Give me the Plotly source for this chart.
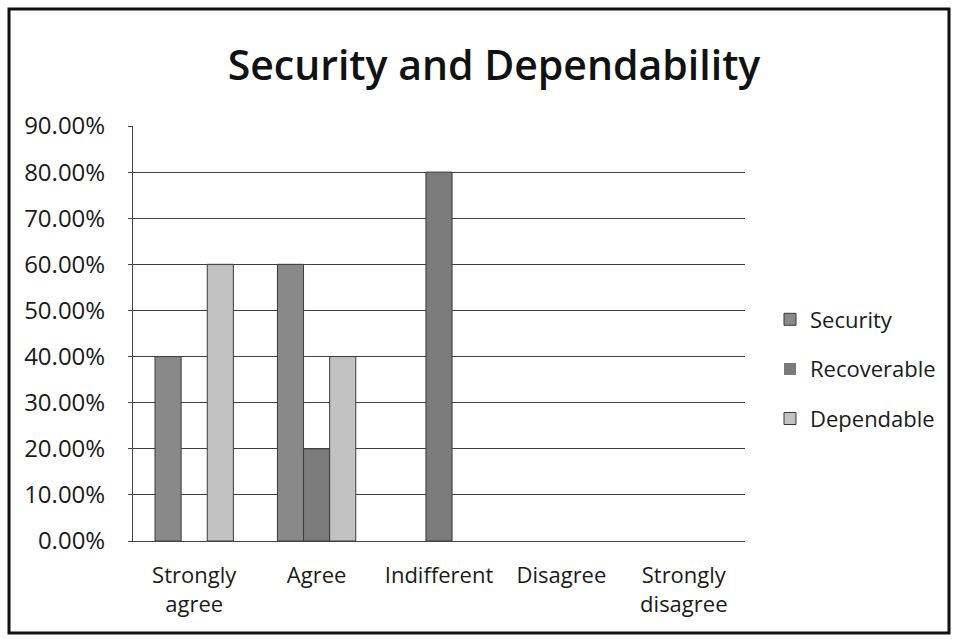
import plotly.graph_objects as go

categories = ["Strongly<br>agree", "Agree", "Indifferent", "Disagree", "Strongly<br>disagree"]
security = [0.40, 0.60, 0.0, 0.0, 0.0]
recoverable = [0.0, 0.20, 0.80, 0.0, 0.0]
dependable = [0.60, 0.40, 0.0, 0.0, 0.0]
y_ticks = [0.0, 0.1, 0.2, 0.3, 0.4, 0.5, 0.6, 0.7, 0.8, 0.9]

FONT = "Open Sans"
series = [
    ("Security", security, "#898989"),
    ("Recoverable", recoverable, "#7b7b7b"),
    ("Dependable", dependable, "#c2c2c2"),
]

fig = go.Figure()
for name, vals, color in series:
    fig.add_trace(go.Bar(
        x=categories, y=vals, name=name, legendgroup=name,
        marker=dict(color=color,
                    line=dict(color="#3a3a3a", width=[1 if v > 0 else 0 for v in vals])),
    ))

L, R, T, B = 133, 745, 126, 541
W, H = 955, 639

fig.update_layout(
    width=W, height=H,
    margin=dict(l=L, r=W - R, t=T, b=H - B),
    paper_bgcolor="white", plot_bgcolor="white",
    barmode="group", bargap=0.36, bargroupgap=0,
    font=dict(family=FONT, size=22, color="#1a1a1a"),
    title=dict(text="Security and Dependability", x=494 / W, xanchor="center",
               y=1 - 66 / H, yanchor="middle",
               font=dict(family=FONT, size=41, weight=600, color="#111111")),
    legend=dict(x=(770 - L) / (R - L), xanchor="left",
                y=(B - 369) / (B - T), yanchor="middle",
                font=dict(family=FONT, size=22, color="#1a1a1a"),
                tracegroupgap=18, itemwidth=30, bgcolor="rgba(0,0,0,0)"),
    showlegend=True,
    xaxis=dict(showline=True, linecolor="#444444", linewidth=1, ticks="",
               ticklabelstandoff=15,
               tickfont=dict(family=FONT, size=22), fixedrange=True),
    yaxis=dict(range=[0, 0.9], tickvals=y_ticks, tickformat=".2%",
               showgrid=True, gridcolor="#404040", gridwidth=1,
               showline=True, linecolor="#444444", linewidth=1,
               ticks="outside", ticklen=4, tickcolor="#444444",
               ticklabelstandoff=18,
               tickfont=dict(family=FONT, size=24), zeroline=False, fixedrange=True),
)

# outer chart frame
fig.add_shape(type="rect", xref="paper", yref="paper",
              x0=(9 - L) / (R - L), x1=(949 - L) / (R - L),
              y0=(B - 633) / (B - T), y1=(B - 9) / (B - T),
              line=dict(color="#111111", width=3), fillcolor="rgba(0,0,0,0)", layer="above")

fig.write_html("out.html")
